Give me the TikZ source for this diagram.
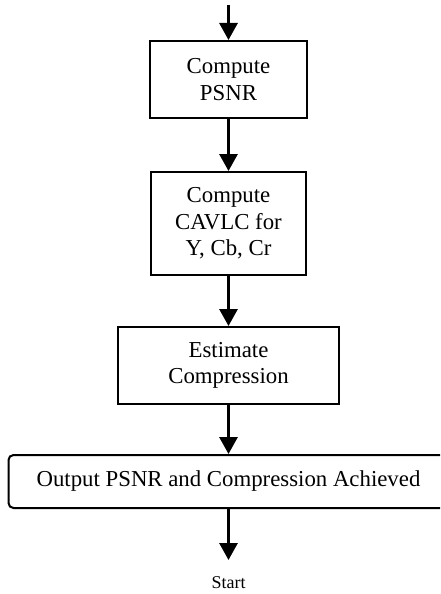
\documentclass[tikz,border=0pt]{standalone}
\usepackage{fontspec}
\setmainfont{Liberation Serif}
\usetikzlibrary{arrows.meta}

\begin{document}
\begin{tikzpicture}[x=1pt, y=-1pt,
      stage/.style={draw, line width=2pt, align=center, inner sep=0pt,
        font=\fontsize{22.8}{26.5}\selectfont},
      result/.style={stage, rounded corners=5pt},
      flow/.style={-{Triangle[length=17pt, width=18pt]}, line width=3pt}]

      \useasboundingbox (0,0) rectangle (440,594);
      \clip (0,0) rectangle (440,594);

      \foreach \y/\al/\w/\h/\lab in {%
        79.5/psnr/157/77/{Compute\\PSNR},%
        223.5/cavlc/155/103/{Compute\\CAVLC for\\Y, Cb, Cr},%
        365.5/estim/221/77/{Estimate\\Compression}%
      }{ \node[stage, minimum width=\w pt, minimum height=\h pt] (\al) at (228.5,\y) {\lab}; }

      \node[result, minimum width=440pt, minimum height=53pt] (output) at (228.5,481.5)
        {Output PSNR and Compression Achieved};

      \coordinate (entry) at (228.5,5);
      \coordinate (exit) at (228.5,560);
      \node[font=\fontsize{18}{21}\selectfont] (start) at (228.5,583) {Start};

      \foreach \from/\to in {%
        entry/psnr, psnr/cavlc, cavlc/estim, estim/output, output/exit%
      }{ \draw[flow] (\from) -- (\to); }
    \end{tikzpicture}
\end{document}
